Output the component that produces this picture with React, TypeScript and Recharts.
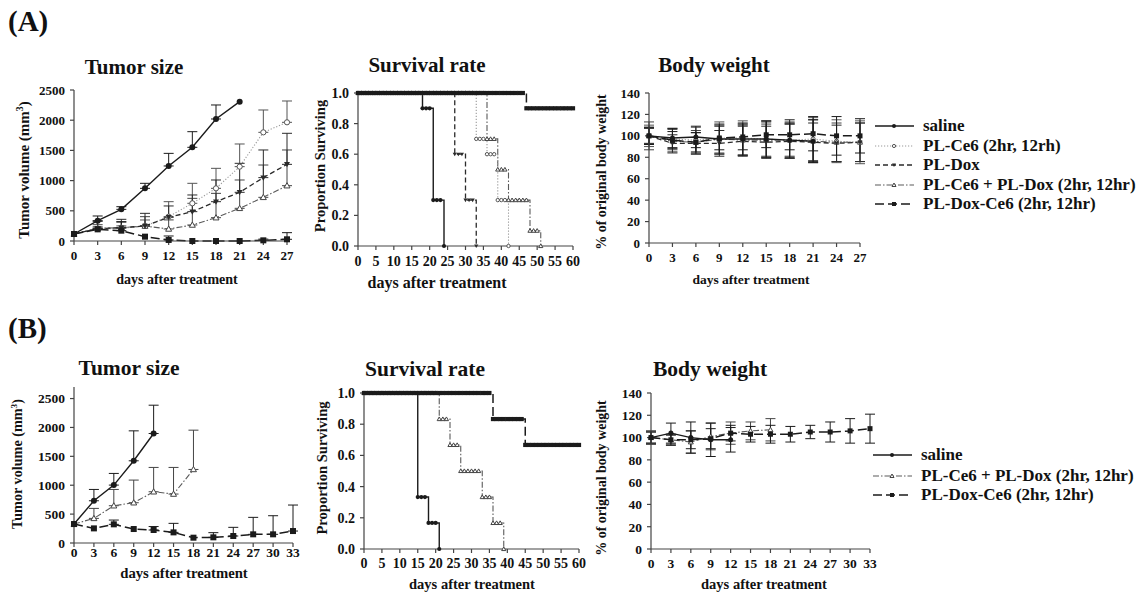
import React from "react";
import { LineChart, Line, XAxis, YAxis, ErrorBar } from "recharts";

const FONT = '"Liberation Serif", "Times New Roman", Times, serif';

// ---------- (A) tumor size, mean + upper SD ----------
const daysA = [0, 3, 6, 9, 12, 15, 18, 21, 24, 27];
const tumorA_saline = [116, 337, 524, 872, 1242, 1551, 2020, 2307];
const tumorA_salineErr = [0, 77, 44, 83, 209, 259, 232, 0];
const tumorA_ce6 = [116, 199, 210, 248, 403, 624, 872, 1231, 1799, 1965];
const tumorA_ce6Err = [0, 0, 40, 100, 248, 331, 331, 375, 370, 353];
const tumorA_dox = [116, 205, 221, 248, 392, 486, 651, 806, 1049, 1269];
const tumorA_doxErr = [0, 120, 138, 210, 188, 276, 359, 480, 458, 514];
const tumorA_combo = [116, 210, 221, 248, 199, 265, 386, 541, 723, 916];
const tumorA_comboErr = [0, 60, 90, 155, 150, 441, 403, 469, 535, 591];
const tumorA_doxce6 = [116, 193, 171, 72, 17, 0, 0, 0, 11, 28];
const tumorA_doxce6Err = [0, 40, 150, 0, 66, 0, 0, 0, 20, 110];

// ---------- (A) body weight, mean +/- SD ----------
const bwA_saline = [100, 98, 99, 97, 97, 97, 96, 95];
const bwA_salineErr = [8, 9, 10, 14, 15, 17, 16, 20];
const bwA_ce6 = [100, 97, 96, 98, 98, 97, 96, 97, 95, 94];
const bwA_ce6Err = [10, 10, 12, 15, 16, 17, 17, 20, 20, 20];
const bwA_dox = [100, 93, 93, 93, 95, 94, 95, 94, 93, 94];
const bwA_doxErr = [8, 8, 10, 12, 14, 15, 16, 18, 17, 18];
const bwA_combo = [100, 95, 94, 97, 96, 96, 96, 95, 94, 94];
const bwA_comboErr = [13, 11, 11, 13, 14, 15, 15, 20, 18, 18];
const bwA_doxce6 = [100, 96, 94, 98, 99, 101, 101, 102, 100, 100];
const bwA_doxce6Err = [7, 8, 9, 11, 12, 12, 14, 16, 18, 16];

// ---------- (A) survival, step points [day, proportion] ----------
const survA_saline = [[0, 1], [18, 0.9], [21, 0.3], [24, 0]];
const survA_ce6 = [[0, 1], [33, 0.7], [36, 0.6], [39, 0.3], [42, 0]];
const survA_dox = [[0, 1], [27, 0.6], [30, 0.3], [33, 0]];
const survA_combo = [[0, 1], [36, 0.7], [39, 0.5], [42, 0.3], [48, 0.1], [51, 0]];
const survA_doxce6 = [[0, 1], [47, 0.9], [60, 0.9]];

// ---------- (B) tumor size ----------
const daysB = [0, 3, 6, 9, 12, 15, 18, 21, 24, 27, 30, 33];
const tumorB_saline = [328, 731, 1002, 1423, 1895];
const tumorB_salineErr = [0, 196, 202, 518, 490];
const tumorB_combo = [328, 426, 645, 697, 887, 847, 1273];
const tumorB_comboErr = [0, 173, 282, 392, 421, 461, 680];
const tumorB_doxce6 = [328, 253, 323, 242, 225, 184, 92, 98, 121, 150, 150, 207];
const tumorB_doxce6Err = [0, 0, 74, 0, 60, 156, 0, 81, 150, 294, 322, 450];

// ---------- (B) body weight ----------
const bwB_saline = [100, 104, 100, 98, 98];
const bwB_salineErr = [6, 9, 14, 15, 11];
const bwB_combo = [100, 98, 96, 101, 104, 106, 107];
const bwB_comboErr = [5, 4, 10, 12, 10, 8, 10];
const bwB_doxce6 = [100, 98, 98, 99, 104, 103, 103, 103, 105, 105, 106, 108];
const bwB_doxce6Err = [5, 5, 8, 9, 7, 7, 8, 7, 6, 9, 11, 13];

// ---------- (B) survival ----------
const survB_saline = [[0, 1], [15, 0.333], [18, 0.167], [21, 0]];
const survB_combo = [[0, 1], [21, 0.833], [24, 0.667], [27, 0.5], [33, 0.333], [36, 0.167], [39, 0]];
const survB_doxce6 = [[0, 1], [36, 0.833], [45, 0.667], [60, 0.667]];

// ---------- ticks and labels ----------
const ticksA = [0, 3, 6, 9, 12, 15, 18, 21, 24, 27];
const ticksB = [0, 3, 6, 9, 12, 15, 18, 21, 24, 27, 30, 33];
const tumorTicks = [0, 500, 1000, 1500, 2000, 2500];
const survTicksX = [0, 5, 10, 15, 20, 25, 30, 35, 40, 45, 50, 55, 60];
const survTicksY = [0, 0.2, 0.4, 0.6, 0.8, 1.0];
const bwTicks = [0, 20, 40, 60, 80, 100, 120, 140];

const legendA = [
  ["saline", "saline"],
  ["ce6", "PL-Ce6 (2hr, 12rh)"],
  ["dox", "PL-Dox"],
  ["combo", "PL-Ce6 + PL-Dox (2hr, 12hr)"],
  ["doxce6", "PL-Dox-Ce6 (2hr, 12hr)"],
];
const legendB = [
  ["saline", "saline"],
  ["combo", "PL-Ce6 + PL-Dox (2hr, 12hr)"],
  ["doxce6", "PL-Dox-Ce6 (2hr, 12hr)"],
];

const STYLES: Record<string, any> = {
  saline: { color: "#1b1b1b", mark: "#1b1b1b", width: 1.4, dash: undefined, shape: "dot" },
  ce6: { color: "#9a9a9a", mark: "#555", width: 1.1, dash: "1.2 1.8", shape: "ring" },
  dox: { color: "#2b2b2b", mark: "#2b2b2b", width: 1.3, dash: "5 3", shape: "tri" },
  combo: { color: "#5a5a5a", mark: "#444", width: 1.1, dash: "6 2 1.5 2", shape: "triOpen" },
  doxce6: { color: "#1b1b1b", mark: "#1b1b1b", width: 1.5, dash: "9 4", shape: "square" },
};

function buildRows(days: number[], cols: Record<string, number[]>, errs: Record<string, number[]>, upOnly: boolean) {
  return days.map((day, i) => {
    const row: any = { day };
    for (const k in cols) {
      const v = cols[k][i];
      if (v === undefined) continue;
      row[k] = v;
      const e = errs[k] ? errs[k][i] : 0;
      if (e) row[k + "Err"] = upOnly ? [0, e] : [e, e];
    }
    return row;
  });
}

// Kaplan-Meier style: hold each step value until the next step, one row per day
function survRows(cols: Record<string, number[][]>) {
  const rows: any[] = [];
  for (let d = 0; d <= 60; d++) {
    const row: any = { day: d };
    for (const k in cols) {
      const steps = cols[k];
      const end = steps[steps.length - 1][0];
      if (d > end) continue;
      let v = steps[0][1];
      for (const [sd, sv] of steps) if (sd <= d) v = sv;
      row[k] = v;
    }
    rows.push(row);
  }
  return rows;
}

const tumorRowsA = buildRows(
  daysA,
  { saline: tumorA_saline, ce6: tumorA_ce6, dox: tumorA_dox, combo: tumorA_combo, doxce6: tumorA_doxce6 },
  { saline: tumorA_salineErr, ce6: tumorA_ce6Err, dox: tumorA_doxErr, combo: tumorA_comboErr, doxce6: tumorA_doxce6Err },
  true
);
const bwRowsA = buildRows(
  daysA,
  { saline: bwA_saline, ce6: bwA_ce6, dox: bwA_dox, combo: bwA_combo, doxce6: bwA_doxce6 },
  { saline: bwA_salineErr, ce6: bwA_ce6Err, dox: bwA_doxErr, combo: bwA_comboErr, doxce6: bwA_doxce6Err },
  false
);
const survRowsA = survRows({ saline: survA_saline, ce6: survA_ce6, dox: survA_dox, combo: survA_combo, doxce6: survA_doxce6 });
const tumorRowsB = buildRows(
  daysB,
  { saline: tumorB_saline, combo: tumorB_combo, doxce6: tumorB_doxce6 },
  { saline: tumorB_salineErr, combo: tumorB_comboErr, doxce6: tumorB_doxce6Err },
  true
);
const bwRowsB = buildRows(
  daysB,
  { saline: bwB_saline, combo: bwB_combo, doxce6: bwB_doxce6 },
  { saline: bwB_salineErr, combo: bwB_comboErr, doxce6: bwB_doxce6Err },
  false
);
const survRowsB = survRows({ saline: survB_saline, combo: survB_combo, doxce6: survB_doxce6 });

function Mark({ cx, cy, shape, size, color }: any) {
  if (cx == null || cy == null || !isFinite(cx) || !isFinite(cy)) return null;
  const r = size / 2;
  if (shape === "dot") return <circle cx={cx} cy={cy} r={r} fill={color} />;
  if (shape === "ring") return <circle cx={cx} cy={cy} r={r - 0.4} fill="#fff" stroke={color} strokeWidth={1} />;
  if (shape === "tri")
    return <polygon points={`${cx - r},${cy - r * 0.75} ${cx + r},${cy - r * 0.75} ${cx},${cy + r}`} fill={color} />;
  if (shape === "triOpen")
    return (
      <polygon
        points={`${cx - r},${cy + r * 0.75} ${cx + r},${cy + r * 0.75} ${cx},${cy - r}`}
        fill="#fff"
        stroke={color}
        strokeWidth={1}
      />
    );
  return <rect x={cx - r} y={cy - r} width={size} height={size} fill={color} />;
}

function Panel({ box, rows, keys, xDomain, xTicks, yDomain, yTicks, yFmt, step, mark, xTickMargin, tickSize }: any) {
  const [x0, y0, x1, y1] = box;
  const L = 50, T = 8, R = 12, B = 30;
  const tick = { fontFamily: FONT, fontSize: tickSize, fontWeight: 700, fill: "#111" };
  return (
    <div style={{ position: "absolute", left: x0 - L, top: y0 - T }}>
      <LineChart
        width={x1 - x0 + L + R}
        height={y1 - y0 + T + B}
        data={rows}
        margin={{ top: T, right: R, left: 0, bottom: 0 }}
      >
        <XAxis
          type="number"
          dataKey="day"
          domain={xDomain}
          ticks={xTicks}
          interval={0}
          height={B}
          tickSize={4}
          tickMargin={xTickMargin}
          stroke="#444"
          strokeWidth={1.2}
          tick={tick}
        />
        <YAxis
          type="number"
          domain={yDomain}
          ticks={yTicks}
          interval={0}
          width={L}
          tickSize={4}
          tickMargin={5}
          stroke="#444"
          strokeWidth={1.2}
          tick={tick}
          tickFormatter={yFmt}
        />
        {keys.map((k: string) => {
          const s = STYLES[k];
          return (
            <Line
              key={k}
              dataKey={k}
              type={step ? "stepAfter" : "linear"}
              stroke={s.color}
              strokeWidth={s.width}
              strokeDasharray={s.dash}
              isAnimationActive={false}
              activeDot={false}
              dot={(p: any) => (
                <Mark key={`${k}-${p.index}`} cx={p.cx} cy={p.cy} shape={s.shape} size={mark} color={s.mark} />
              )}
            >
              {!step && <ErrorBar dataKey={k + "Err"} width={5} stroke={s.mark} strokeWidth={1} direction="y" />}
            </Line>
          );
        })}
      </LineChart>
    </div>
  );
}

function Txt({ x, y, size, children, rotate, left }: any) {
  return (
    <div
      style={{
        position: "absolute",
        left: x,
        top: y,
        transform: `translate(${left ? "0" : "-50%"}, -50%)${rotate ? " rotate(-90deg)" : ""}`,
        fontSize: size,
        fontWeight: 700,
        lineHeight: 1,
        whiteSpace: "nowrap",
        color: "#111",
        fontFamily: FONT,
      }}
    >
      {children}
    </div>
  );
}

function Legend({ x, rows, items }: any) {
  return (
    <>
      {items.map(([k, label]: string[], i: number) => {
        const s = STYLES[k];
        return (
          <div
            key={k}
            style={{ position: "absolute", left: x, top: rows[i] - 10, height: 20, display: "flex", alignItems: "center" }}
          >
            <svg width={39} height={10}>
              <line x1={0} y1={5} x2={39} y2={5} stroke={s.color} strokeWidth={s.width} strokeDasharray={s.dash} />
              <Mark cx={19} cy={5} shape={s.shape} size={4} color={s.mark} />
            </svg>
            <span style={{ marginLeft: 9, fontSize: 17, fontWeight: 700, fontFamily: FONT, color: "#111" }}>{label}</span>
          </div>
        );
      })}
    </>
  );
}

const fmt1 = (v: number) => v.toFixed(1);

export default function App() {
  return (
    <div style={{ position: "absolute", left: 0, top: 0, width: 1140, height: 593, background: "#fff", overflow: "hidden" }}>
      <Txt x={8} y={21} size={29} left>(A)</Txt>
      <Txt x={8} y={328} size={29} left>(B)</Txt>

      {/* (A) row */}
      <Txt x={134} y={67} size={21}>Tumor size</Txt>
      <Txt x={427} y={65} size={21}>Survival rate</Txt>
      <Txt x={714} y={65} size={21}>Body weight</Txt>

      <Panel
        box={[74, 90, 287, 241]}
        rows={tumorRowsA}
        keys={["ce6", "combo", "dox", "doxce6", "saline"]}
        xDomain={[0, 27]}
        xTicks={ticksA}
        yDomain={[0, 2500]}
        yTicks={tumorTicks}
        mark={6}
        xTickMargin={6}
        tickSize={13}
      />
      <Txt x={23} y={170} size={15} rotate>
        Tumor volume (mm<sup style={{ fontSize: "0.65em" }}>3</sup>)
      </Txt>
      <Txt x={177} y={280} size={14}>days after treatment</Txt>

      <Panel
        box={[358, 93, 573, 246]}
        rows={survRowsA}
        keys={["combo", "ce6", "dox", "saline", "doxce6"]}
        xDomain={[0, 60]}
        xTicks={survTicksX}
        yDomain={[0, 1]}
        yTicks={survTicksY}
        yFmt={fmt1}
        step
        mark={4.2}
        xTickMargin={6}
        tickSize={14}
      />
      <Txt x={320} y={166} size={14.5} rotate>Proportion Surviving</Txt>
      <Txt x={437} y={283} size={16}>days after treatment</Txt>

      <Panel
        box={[649, 93, 860, 243]}
        rows={bwRowsA}
        keys={["ce6", "combo", "dox", "saline", "doxce6"]}
        xDomain={[0, 27]}
        xTicks={ticksA}
        yDomain={[0, 140]}
        yTicks={bwTicks}
        mark={5}
        xTickMargin={6}
        tickSize={13}
      />
      <Txt x={602} y={172} size={14} rotate>% of original body weight</Txt>
      <Txt x={751} y={280} size={13.5}>days after treatment</Txt>

      <Legend x={875} rows={[126, 146, 165, 185, 204]} items={legendA} />

      {/* (B) row */}
      <Txt x={129} y={369} size={21.5}>Tumor size</Txt>
      <Txt x={425} y={370} size={21.5}>Survival rate</Txt>
      <Txt x={710} y={370} size={21.5}>Body weight</Txt>

      <Panel
        box={[74, 387, 293, 543]}
        rows={tumorRowsB}
        keys={["combo", "doxce6", "saline"]}
        xDomain={[0, 33]}
        xTicks={ticksB}
        yDomain={[0, 2700]}
        yTicks={tumorTicks}
        mark={6}
        xTickMargin={0}
        tickSize={13.5}
      />
      <Txt x={17} y={464} size={14.2} rotate>
        Tumor volume (mm<sup style={{ fontSize: "0.65em" }}>3</sup>)
      </Txt>
      <Txt x={184} y={573} size={14.7}>days after treatment</Txt>

      <Panel
        box={[364, 393, 579, 549]}
        rows={survRowsB}
        keys={["combo", "saline", "doxce6"]}
        xDomain={[0, 60]}
        xTicks={survTicksX}
        yDomain={[0, 1]}
        yTicks={survTicksY}
        yFmt={fmt1}
        step
        mark={4.2}
        xTickMargin={5}
        tickSize={14}
      />
      <Txt x={322} y={468} size={14.6} rotate>Proportion Surviving</Txt>
      <Txt x={472} y={584} size={14.5}>days after treatment</Txt>

      <Panel
        box={[651, 393, 870, 549]}
        rows={bwRowsB}
        keys={["combo", "saline", "doxce6"]}
        xDomain={[0, 33]}
        xTicks={ticksB}
        yDomain={[0, 140]}
        yTicks={bwTicks}
        mark={5}
        xTickMargin={5}
        tickSize={13.5}
      />
      <Txt x={602} y={478} size={14} rotate>% of original body weight</Txt>
      <Txt x={764} y={584} size={14.5}>days after treatment</Txt>

      <Legend x={873} rows={[455, 476, 495]} items={legendB} />
    </div>
  );
}
